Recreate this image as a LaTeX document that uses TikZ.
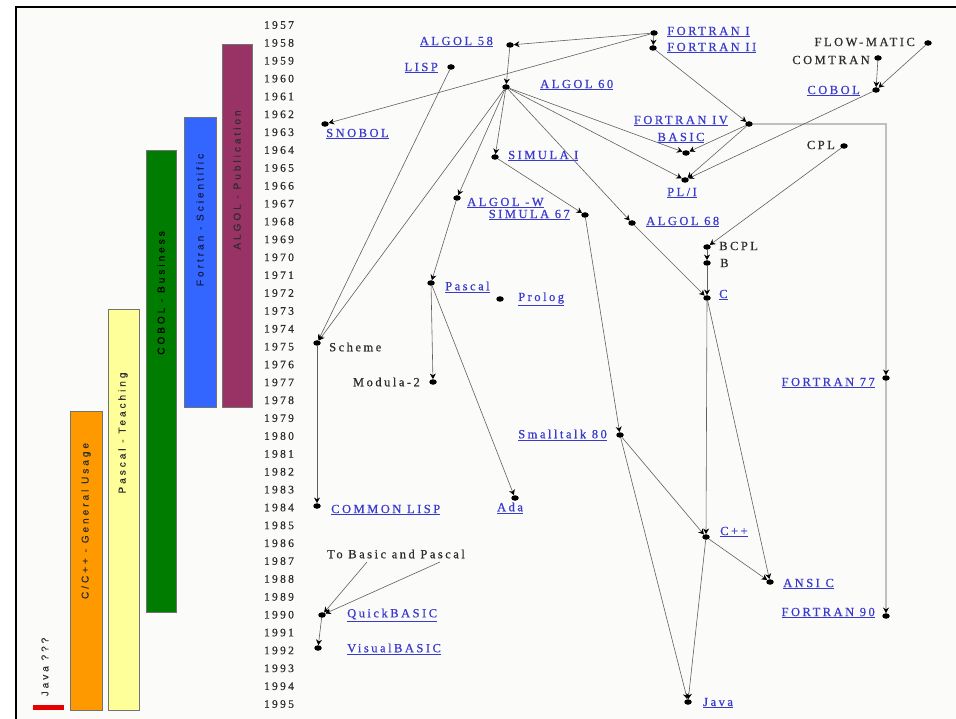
\documentclass[tikz,border=0pt]{standalone}
\usepackage{fontspec}
\setmainfont{Liberation Serif}
\newfontfamily\lblfont[LetterSpace=20,FakeBold=0.6]{Liberation Serif}
\newfontfamily\barfont[LetterSpace=30,FakeBold=0.4]{Liberation Sans}
\usetikzlibrary{arrows.meta,shapes.geometric}

\definecolor{linkblue}{RGB}{58,58,205}
\definecolor{inkgray}{RGB}{45,45,45}
\definecolor{edgegray}{RGB}{95,95,95}
\definecolor{fortgray}{RGB}{192,192,192}
\definecolor{panel}{RGB}{251,252,250}
\definecolor{algolbar}{RGB}{153,51,102}
\definecolor{fortbar}{RGB}{51,102,255}
\definecolor{cobolbar}{RGB}{0,125,0}
\definecolor{pascalbar}{RGB}{255,255,153}
\definecolor{cbar}{RGB}{255,153,0}
\definecolor{javabar}{RGB}{230,0,0}

\begin{document}
\begin{tikzpicture}[x=1pt,y=-1pt,
  mk/.style={ellipse,fill=black,inner sep=0pt,minimum width=7.5pt,minimum height=5.5pt},
  lnk/.style={text=linkblue,font=\lblfont\fontsize{12.5}{14}\selectfont,inner sep=1pt},
  plain/.style={text=inkgray,font=\lblfont\fontsize{12.5}{14}\selectfont,inner sep=1pt},
  yr/.style={text=inkgray,font=\lblfont\fontsize{11.5}{13}\selectfont,inner sep=0pt},
  tip/.style={-{Stealth[length=5.5pt,width=6pt,black]}},
  edge/.style={draw=edgegray,line width=0.6pt,tip},
  fline/.style={draw=fortgray,line width=2.2pt},
  bar/.style={draw=black!55,line width=0.5pt},
  barlbl/.style={font=\barfont\fontsize{10}{12}\selectfont,rotate=90,inner sep=0pt,text=inkgray}
]
\useasboundingbox (0,0) rectangle (956,719);
\fill[white] (0,0) rectangle (956,719);
\fill[panel] (16,7) rectangle (956,719);
\draw[line width=2pt] (16,719) -- (16,7) -- (956,7);

% year scale
\foreach \i in {0,...,38}{
  \pgfmathtruncatemacro\yy{1957+\i}
  \node[yr] (yr\yy) at (279,{25+\i*17.87}) {\yy};
}

% usage bars
\draw[bar,fill=algolbar]  (222,44)  rectangle (252,407);
\draw[bar,fill=fortbar]   (184,117) rectangle (216,407);
\draw[bar,fill=cobolbar]  (146,150) rectangle (176,612);
\draw[bar,fill=pascalbar] (108,309) rectangle (139,710);
\draw[bar,fill=cbar]      (70,411)  rectangle (102,710);
\fill[javabar]            (33,705)  rectangle (64,710);

\node[barlbl] (lalgol)  at (237,180) {ALGOL - Publication};
\node[barlbl,text={rgb,255:red,25;green,25;blue,80}] (lfort) at (200,220) {Fortran - Scientific};
\node[barlbl,text=black] (lcobol) at (161,293) {COBOL - Business};
\node[barlbl] (lpascal) at (123,433) {Pascal - Teaching};
\node[barlbl] (lcc)     at (86,521)  {C/C++ - General Usage};
\node[barlbl] (ljava)   at (45,667)  {Java ???};

% languages
\node[mk] (f1)        at (654,33)  {};
\node[mk] (f2)        at (653,48)  {};
\node[mk] (a58)       at (510,45)  {};
\node[mk] (lisp)      at (451,67)  {};
\node[mk] (a60)       at (506,87)  {};
\node[mk] (snobol)    at (325,124) {};
\node[mk] (flow)      at (928,43)  {};
\node[mk] (comtran)   at (878,58)  {};
\node[mk] (cobol)     at (876,90)  {};
\node[mk] (f4)        at (749,124) {};
\node[mk] (basic)     at (686,153) {};
\node[mk] (pli)       at (685,180) {};
\node[mk] (simula1)   at (495,157) {};
\node[mk] (cpl)       at (844,146) {};
\node[mk] (algolw)    at (457,198) {};
\node[mk] (sim67)     at (585,215) {};
\node[mk] (a68)       at (632,223) {};
\node[mk] (bcpl)      at (707,247) {};
\node[mk] (b)         at (707,263) {};
\node[mk] (c)         at (707,298) {};
\node[mk] (pascal)    at (431,283) {};
\node[mk] (prolog)    at (500,299) {};
\node[mk] (scheme)    at (317,343) {};
\node[mk] (modula)    at (433,382) {};
\node[mk] (f77)       at (886,378) {};
\node[mk] (smalltalk) at (620,435) {};
\node[mk] (clisp)     at (317,506) {};
\node[mk] (ada)       at (515,498) {};
\node[mk] (cpp)       at (706,537) {};
\node[mk] (ansic)     at (770,582) {};
\node[mk] (qbasic)    at (322,615) {};
\node[mk] (f90)       at (886,616) {};
\node[mk] (vbasic)    at (318,648) {};
\node[mk] (java)      at (688,702) {};

% names
\node[lnk,anchor=west]   (tf1)      at (666,32)  {\underline{FORTRAN I}};
\node[lnk,anchor=west]   (tf2)      at (666,48)  {\underline{FORTRAN II}};
\node[lnk,anchor=east]   (ta58)     at (494,42)  {\underline{ALGOL 58}};
\node[lnk,anchor=east]   (tlisp)    at (439,68)  {\underline{LISP}};
\node[lnk,anchor=west]   (ta60)     at (539,85)  {\underline{ALGOL 60}};
\node[lnk,anchor=west]   (tsnobol)  at (325,134) {\underline{SNOBOL}};
\node[plain,anchor=east] (tflow)    at (916,42)  {FLOW-MATIC};
\node[plain,anchor=east] (tcomtran) at (871,60)  {COMTRAN};
\node[lnk,anchor=east]   (tcobol)   at (861,91)  {\underline{COBOL}};
\node[lnk,anchor=east]   (tf4)      at (729,121) {\underline{FORTRAN IV}};
\node[lnk]               (tbasic)   at (681,138) {\underline{BASIC}};
\node[lnk]               (tpli)     at (682,193) {\underline{PL/I}};
\node[lnk,anchor=west]   (tsim1)    at (507,156) {\underline{SIMULA I}};
\node[plain,anchor=east] (tcpl)     at (836,145) {CPL};
\node[lnk,anchor=west]   (talgolw)  at (466,203) {\underline{ALGOL -W}};
\node[lnk,anchor=east]   (tsim67)   at (571,215) {\underline{SIMULA 67}};
\node[lnk,anchor=west]   (ta68)     at (645,222) {\underline{ALGOL 68}};
\node[plain,anchor=west] (tbcpl)    at (718,246) {BCPL};
\node[plain,anchor=west] (tb)       at (719,263) {B};
\node[lnk,anchor=west]   (tc)       at (718,295) {\underline{C}};
\node[lnk,anchor=west]   (tpascal)  at (444,287) {\underline{Pascal}};
\node[lnk,anchor=west]   (tprolog)  at (517,299) {\underline{Prolog}};
\node[plain,anchor=west] (tscheme)  at (328,347) {Scheme};
\node[plain,anchor=east] (tmodula)  at (421,382) {Modula-2};
\node[lnk,anchor=east]   (tf77)     at (876,383) {\underline{FORTRAN 77}};
\node[lnk,anchor=east]   (tsmall)   at (608,435) {\underline{Smalltalk 80}};
\node[lnk,anchor=west]   (tclisp)   at (330,510) {\underline{COMMON LISP}};
\node[lnk]               (tada)     at (510,508) {\underline{Ada}};
\node[lnk,anchor=west]   (tcpp)     at (719,532) {\underline{C++}};
\node[lnk,anchor=west]   (tansic)   at (782,584) {\underline{ANSI C}};
\node[lnk,anchor=west]   (tqbasic)  at (346,615) {\underline{QuickBASIC}};
\node[lnk,anchor=east]   (tf90)     at (876,613) {\underline{FORTRAN 90}};
\node[lnk,anchor=west]   (tvbasic)  at (346,649) {\underline{VisualBASIC}};
\node[lnk,anchor=west]   (tjava)    at (702,703) {\underline{Java}};
\node[plain]             (tobp)     at (396,554) {To Basic and Pascal};
\coordinate (tb1) at (367,562);
\coordinate (tb2) at (440,562);

% FORTRAN line of descent
\draw[fline] (f4) -| (f77);
\draw[fline] (f77) -- (f90);
\draw[tip,draw=fortgray,line width=2.2pt] (886,370) -- (f77);
\draw[tip,draw=fortgray,line width=2.2pt] (886,608) -- (f90);

% influences
\foreach \s/\t in {f1/a58, f1/f2, f1/snobol, a58/a60, f2/f4,
  a60/simula1, a60/algolw, a60/scheme, lisp/scheme, a60/basic, a60/pli, a60/a68,
  f4/basic, f4/pli, cobol/pli, comtran/cobol, flow/cobol, simula1/sim67,
  cpl/bcpl, a68/c, bcpl/b, b/c, algolw/pascal, pascal/modula, pascal/ada,
  sim67/smalltalk, smalltalk/cpp, c/cpp, c/ansic, cpp/ansic, smalltalk/java,
  cpp/java, scheme/clisp, tb1/qbasic, tb2/qbasic, qbasic/vbasic}
  \draw[edge] (\s) -- (\t);
\end{tikzpicture}
\end{document}
